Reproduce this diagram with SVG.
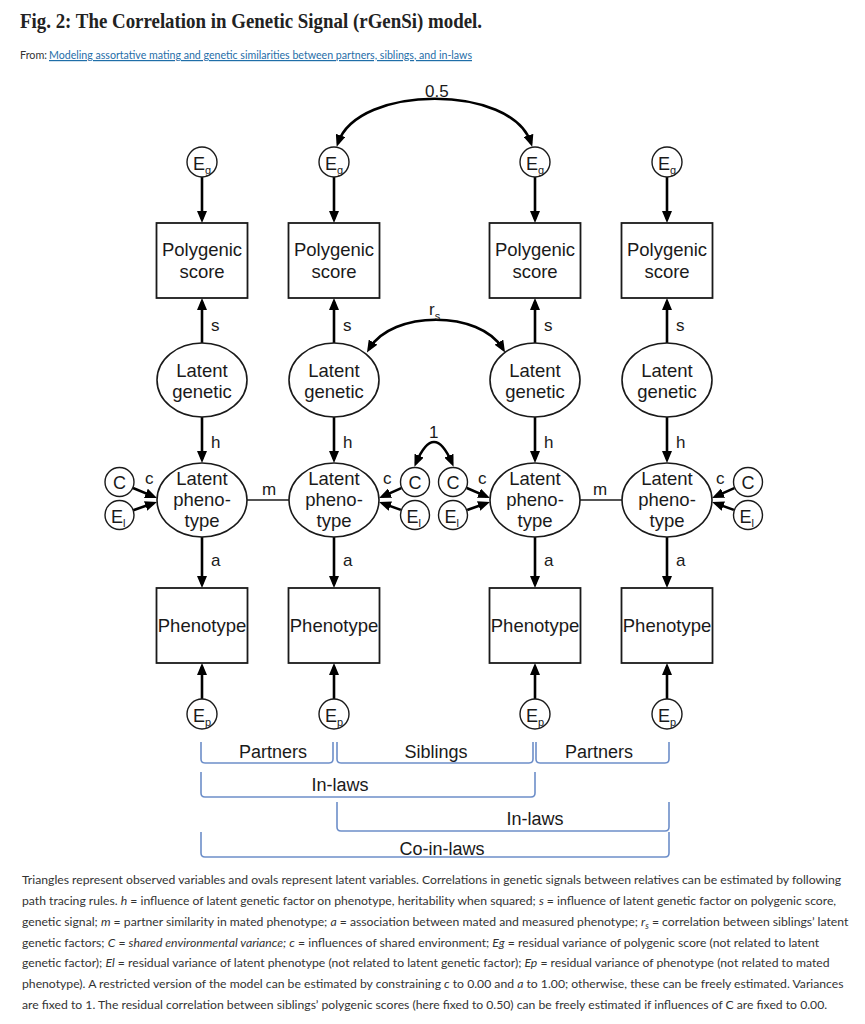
<svg xmlns="http://www.w3.org/2000/svg" width="865" height="1024" viewBox="0 0 865 1024">
<style>
.bg{fill:#ffffff}
.box{fill:#ffffff;stroke:#1a1a1a;stroke-width:1.8}
.ell{fill:#ffffff;stroke:#1a1a1a;stroke-width:1.6}
.sm{fill:#ffffff;stroke:#1a1a1a;stroke-width:1.4}
.t{font-family:"Liberation Sans",Arial,sans-serif;font-size:18.5px;fill:#1a1a1a;text-anchor:middle}
.e{font-family:"Liberation Sans",Arial,sans-serif;font-size:18px;fill:#1a1a1a}
.sub{font-size:11px}
.lab{font-family:"Liberation Sans",Arial,sans-serif;font-size:17px;fill:#1a1a1a}
.arr{fill:none;stroke:#000;stroke-width:2.6;marker-end:url(#ah)}
.dbl{fill:none;stroke:#000;stroke-width:2.6;marker-end:url(#ah);marker-start:url(#ah)}
.ln{fill:none;stroke:#1a1a1a;stroke-width:1.6}
.br{fill:none;stroke:#6d8ec9;stroke-width:1.6}
.bt{font-family:"Liberation Sans",Arial,sans-serif;font-size:18px;fill:#1a1a1a;text-anchor:middle}
.cap{font-family:Lato,"Open Sans",sans-serif;font-size:12.2px;fill:#333333}
.i{font-style:italic}
</style>
<defs>
<marker id="ah" viewBox="0 0 12 10" refX="8" refY="5" markerWidth="12" markerHeight="10" markerUnits="userSpaceOnUse" orient="auto-start-reverse">
<path d="M0,0 L12,5 L0,10 z" fill="#000"/>
</marker>
</defs>
<rect class="bg" x="0" y="0" width="865" height="1024"/>

<g id="header">
<text x="20" y="28" font-family="'Liberation Serif','DejaVu Serif',serif" font-weight="bold" font-size="21" fill="#222" textLength="462" lengthAdjust="spacingAndGlyphs">Fig. 2: The Correlation in Genetic Signal (rGenSi) model.</text>
<text x="20" y="59" font-family="Lato,'Open Sans',sans-serif" font-size="12" fill="#333" textLength="27" lengthAdjust="spacingAndGlyphs">From:</text>
<text x="49" y="59" font-family="Lato,'Open Sans',sans-serif" font-size="12" fill="#1f6ea8" text-decoration="underline" textLength="423" lengthAdjust="spacingAndGlyphs">Modeling assortative mating and genetic similarities between partners, siblings, and in-laws</text>
</g>

<g id="connectors">
<line class="arr" x1="202" y1="177" x2="202" y2="219"/>
<line class="arr" x1="334" y1="177" x2="334" y2="219"/>
<line class="arr" x1="535" y1="177" x2="535" y2="219"/>
<line class="arr" x1="667" y1="177" x2="667" y2="219"/>
<line class="arr" x1="202" y1="343" x2="202" y2="302"/>
<line class="arr" x1="334" y1="343" x2="334" y2="302"/>
<line class="arr" x1="535" y1="343" x2="535" y2="302"/>
<line class="arr" x1="667" y1="343" x2="667" y2="302"/>
<line class="arr" x1="202" y1="417" x2="202" y2="459"/>
<line class="arr" x1="334" y1="417" x2="334" y2="459"/>
<line class="arr" x1="535" y1="417" x2="535" y2="459"/>
<line class="arr" x1="667" y1="417" x2="667" y2="459"/>
<line class="arr" x1="202" y1="537" x2="202" y2="584"/>
<line class="arr" x1="334" y1="537" x2="334" y2="584"/>
<line class="arr" x1="535" y1="537" x2="535" y2="584"/>
<line class="arr" x1="667" y1="537" x2="667" y2="584"/>
<line class="arr" x1="202" y1="699" x2="202" y2="667"/>
<line class="arr" x1="334" y1="699" x2="334" y2="667"/>
<line class="arr" x1="535" y1="699" x2="535" y2="667"/>
<line class="arr" x1="667" y1="699" x2="667" y2="667"/>
<line class="ln" x1="247" y1="500" x2="289" y2="500"/>
<line class="ln" x1="580" y1="500" x2="622" y2="500"/>
<line class="arr" x1="133" y1="488" x2="153.3" y2="496.4"/>
<line class="arr" x1="133.2" y1="510.2" x2="153.2" y2="503.3"/>
<line class="arr" x1="401.3" y1="488.1" x2="382.7" y2="496.4"/>
<line class="arr" x1="400.9" y1="509.9" x2="382.8" y2="503.4"/>
<line class="arr" x1="466.8" y1="488" x2="486.3" y2="496.4"/>
<line class="arr" x1="467.2" y1="510" x2="486.2" y2="503.3"/>
<line class="arr" x1="734.3" y1="488.1" x2="715.7" y2="496.4"/>
<line class="arr" x1="733.9" y1="509.9" x2="715.8" y2="503.4"/>
<path class="dbl" d="M338,143 C358,84 512,84 531,143"/>
<path class="dbl" d="M369,349 C392,310 480,310 503,349"/>
<path class="dbl" d="M416,463 Q434,421 452,463"/>
</g>

<g id="path-labels">
<text class="lab" x="425" y="97">0.5</text>
<text class="lab" x="429" y="315">r<tspan class="sub" dy="5">s</tspan></text>
<text class="lab" x="429" y="438">1</text>
<text class="lab" x="211" y="331">s</text>
<text class="lab" x="343" y="331">s</text>
<text class="lab" x="544" y="331">s</text>
<text class="lab" x="676" y="331">s</text>
<text class="lab" x="211" y="448">h</text>
<text class="lab" x="343" y="448">h</text>
<text class="lab" x="544" y="448">h</text>
<text class="lab" x="676" y="448">h</text>
<text class="lab" x="211" y="566">a</text>
<text class="lab" x="343" y="566">a</text>
<text class="lab" x="544" y="566">a</text>
<text class="lab" x="676" y="566">a</text>
<text class="lab" x="262" y="495">m</text>
<text class="lab" x="593" y="495">m</text>
<text class="lab" x="145" y="484">c</text>
<text class="lab" x="383" y="484">c</text>
<text class="lab" x="478" y="484">c</text>
<text class="lab" x="716" y="484">c</text>
</g>

<g id="eg1"><circle class="sm" cx="202" cy="162" r="15"/><text class="e" x="193" y="170">E<tspan class="sub" dy="4">g</tspan></text></g>
<g id="pgs1"><rect class="box" x="156.5" y="223" width="91" height="75"/><text class="t" x="202" y="256">Polygenic</text><text class="t" x="202" y="278">score</text></g>
<g id="lg1"><ellipse class="ell" cx="202" cy="380" rx="45" ry="37"/><text class="t" x="202" y="377">Latent</text><text class="t" x="202" y="398">genetic</text></g>
<g id="lp1"><ellipse class="ell" cx="202" cy="500" rx="45" ry="37"/><text class="t" x="202" y="485">Latent</text><text class="t" x="202" y="506">pheno-</text><text class="t" x="202" y="527">type</text></g>
<g id="c1"><circle class="sm" cx="119.5" cy="482" r="14.5"/><text class="e" x="119.5" y="489" text-anchor="middle">C</text></g>
<g id="el1"><circle class="sm" cx="119.5" cy="515" r="14.5"/><text class="e" x="111" y="523">E<tspan class="sub" dy="4">l</tspan></text></g>
<g id="ph1"><rect class="box" x="156.5" y="588" width="91" height="75"/><text class="t" x="202" y="632">Phenotype</text></g>
<g id="ep1"><circle class="sm" cx="202" cy="714" r="15"/><text class="e" x="193" y="722">E<tspan class="sub" dy="4">p</tspan></text></g>

<g id="eg2"><circle class="sm" cx="334" cy="162" r="15"/><text class="e" x="325" y="170">E<tspan class="sub" dy="4">g</tspan></text></g>
<g id="pgs2"><rect class="box" x="288.5" y="223" width="91" height="75"/><text class="t" x="334" y="256">Polygenic</text><text class="t" x="334" y="278">score</text></g>
<g id="lg2"><ellipse class="ell" cx="334" cy="380" rx="45" ry="37"/><text class="t" x="334" y="377">Latent</text><text class="t" x="334" y="398">genetic</text></g>
<g id="lp2"><ellipse class="ell" cx="334" cy="500" rx="45" ry="37"/><text class="t" x="334" y="485">Latent</text><text class="t" x="334" y="506">pheno-</text><text class="t" x="334" y="527">type</text></g>
<g id="c2"><circle class="sm" cx="415" cy="482" r="14.5"/><text class="e" x="415" y="489" text-anchor="middle">C</text></g>
<g id="el2"><circle class="sm" cx="415" cy="515" r="14.5"/><text class="e" x="406.5" y="523">E<tspan class="sub" dy="4">l</tspan></text></g>
<g id="ph2"><rect class="box" x="288.5" y="588" width="91" height="75"/><text class="t" x="334" y="632">Phenotype</text></g>
<g id="ep2"><circle class="sm" cx="334" cy="714" r="15"/><text class="e" x="325" y="722">E<tspan class="sub" dy="4">p</tspan></text></g>

<g id="eg3"><circle class="sm" cx="535" cy="162" r="15"/><text class="e" x="526" y="170">E<tspan class="sub" dy="4">g</tspan></text></g>
<g id="pgs3"><rect class="box" x="489.5" y="223" width="91" height="75"/><text class="t" x="535" y="256">Polygenic</text><text class="t" x="535" y="278">score</text></g>
<g id="lg3"><ellipse class="ell" cx="535" cy="380" rx="45" ry="37"/><text class="t" x="535" y="377">Latent</text><text class="t" x="535" y="398">genetic</text></g>
<g id="lp3"><ellipse class="ell" cx="535" cy="500" rx="45" ry="37"/><text class="t" x="535" y="485">Latent</text><text class="t" x="535" y="506">pheno-</text><text class="t" x="535" y="527">type</text></g>
<g id="c3"><circle class="sm" cx="453" cy="482" r="14.5"/><text class="e" x="453" y="489" text-anchor="middle">C</text></g>
<g id="el3"><circle class="sm" cx="453" cy="515" r="14.5"/><text class="e" x="444.5" y="523">E<tspan class="sub" dy="4">l</tspan></text></g>
<g id="ph3"><rect class="box" x="489.5" y="588" width="91" height="75"/><text class="t" x="535" y="632">Phenotype</text></g>
<g id="ep3"><circle class="sm" cx="535" cy="714" r="15"/><text class="e" x="526" y="722">E<tspan class="sub" dy="4">p</tspan></text></g>

<g id="eg4"><circle class="sm" cx="667" cy="162" r="15"/><text class="e" x="658" y="170">E<tspan class="sub" dy="4">g</tspan></text></g>
<g id="pgs4"><rect class="box" x="621.5" y="223" width="91" height="75"/><text class="t" x="667" y="256">Polygenic</text><text class="t" x="667" y="278">score</text></g>
<g id="lg4"><ellipse class="ell" cx="667" cy="380" rx="45" ry="37"/><text class="t" x="667" y="377">Latent</text><text class="t" x="667" y="398">genetic</text></g>
<g id="lp4"><ellipse class="ell" cx="667" cy="500" rx="45" ry="37"/><text class="t" x="667" y="485">Latent</text><text class="t" x="667" y="506">pheno-</text><text class="t" x="667" y="527">type</text></g>
<g id="c4"><circle class="sm" cx="748" cy="482" r="14.5"/><text class="e" x="748" y="489" text-anchor="middle">C</text></g>
<g id="el4"><circle class="sm" cx="748" cy="515" r="14.5"/><text class="e" x="739.5" y="523">E<tspan class="sub" dy="4">l</tspan></text></g>
<g id="ph4"><rect class="box" x="621.5" y="588" width="91" height="75"/><text class="t" x="667" y="632">Phenotype</text></g>
<g id="ep4"><circle class="sm" cx="667" cy="714" r="15"/><text class="e" x="658" y="722">E<tspan class="sub" dy="4">p</tspan></text></g>

<g id="brackets">
<path class="br" d="M201,742 L201,759 Q201,763 205,763 L329,763 Q333,763 333,759 L333,742"/>
<text class="bt" x="273" y="758">Partners</text>
<path class="br" d="M337,742 L337,759 Q337,763 341,763 L529,763 Q533,763 533,759 L533,742"/>
<text class="bt" x="436" y="758">Siblings</text>
<path class="br" d="M536,742 L536,759 Q536,763 540,763 L665,763 Q669,763 669,759 L669,742"/>
<text class="bt" x="599" y="758">Partners</text>
<path class="br" d="M201,772 L201,793 Q201,797 205,797 L531,797 Q535,797 535,793 L535,772"/>
<text class="bt" x="340" y="791">In-laws</text>
<path class="br" d="M337,802 L337,827 Q337,831 341,831 L665,831 Q669,831 669,827 L669,802"/>
<text class="bt" x="535" y="825">In-laws</text>
<path class="br" d="M201,832 L201,853 Q201,857 205,857 L665,857 Q669,857 669,853 L669,832"/>
<text class="bt" x="442" y="855">Co-in-laws</text>
</g>

<g id="caption">
<text class="cap" x="22" y="884">Triangles represent observed variables and ovals represent latent variables. Correlations in genetic signals between relatives can be estimated by following</text>
<text class="cap" x="22" y="905">path tracing rules. <tspan class="i">h</tspan> = influence of latent genetic factor on phenotype, heritability when squared; <tspan class="i">s</tspan> = influence of latent genetic factor on polygenic score,</text>
<text class="cap" x="22" y="926">genetic signal; <tspan class="i">m</tspan> = partner similarity in mated phenotype; <tspan class="i">a</tspan> = association between mated and measured phenotype; <tspan class="i">r</tspan><tspan class="i" font-size="9" dy="3">s</tspan><tspan dy="-3"> = correlation between siblings’ latent</tspan></text>
<text class="cap" x="22" y="947">genetic factors; <tspan class="i">C</tspan> = <tspan class="i">shared environmental variance;</tspan> <tspan class="i">c</tspan> = influences of shared environment; <tspan class="i">Eg</tspan> = residual variance of polygenic score (not related to latent</text>
<text class="cap" x="22" y="967">genetic factor); <tspan class="i">El</tspan> = residual variance of latent phenotype (not related to latent genetic factor); <tspan class="i">Ep</tspan> = residual variance of phenotype (not related to mated</text>
<text class="cap" x="22" y="988">phenotype). A restricted version of the model can be estimated by constraining <tspan class="i">c</tspan> to 0.00 and <tspan class="i">a</tspan> to 1.00; otherwise, these can be freely estimated. Variances</text>
<text class="cap" x="22" y="1009">are fixed to 1. The residual correlation between siblings’ polygenic scores (here fixed to 0.50) can be freely estimated if influences of C are fixed to 0.00.</text>
</g>
</svg>
